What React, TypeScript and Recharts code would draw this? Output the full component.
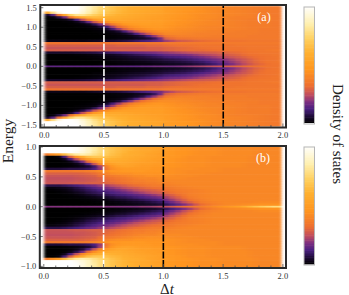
import React from "react";
import { ScatterChart, Scatter, XAxis, YAxis } from "recharts";

// Column edges of the time grid (Delta t)
const timeEdges = [0.005,0.05,0.1,0.15,0.2,0.25,0.3,0.35,0.4,0.45,0.5,0.55,0.6,0.65,0.7,0.75,0.8,0.85,0.9,0.95,1.0,1.05,1.1,1.15,1.2,1.25,1.3,1.35,1.4,1.45,1.5,1.55,1.6,1.65,1.7,1.75,1.8,1.85,1.9,1.95,1.985];

const energyA = [0,.06,.12,.18,.24,.30,.36,.42,.48,.54,.60,.66,.72,.78,.84,.90,.96,1.02,1.08,1.14,1.20,1.26,1.32,1.38,1.44,1.50];
const densityA = [
[1.3,1.3,1.3,1.3,1.3,1.3,1.3,1.3,1.3,1.3,1.3,1.3,1.3,1.3,1.3,1.3,1.4,1.4,1.5,1.5, 1.5,1.5,1.6,1.7,1.8,1.9,2.0,2.1,2.2,2.3,2.5,2.6,2.7,2.8,2.9,2.9,3.0,3.0,3.0,3.0],
[0,0,0,0,0,0,0,0,0,.05,.05,.05,.08,.1,.1,.12,.15,.15,.2,.2, .25,.28,.32,.38,.45,.55,.65,.78,.95,1.15,1.35,1.6,1.85,2.1,2.35,2.6,2.75,2.9,3,3.05],
[0,0,0,0,0,0,0,0,0,0,.05,.07,.1,.12,.15,.18,.2,.25,.3,.35, .4,.45,.5,.57,.65,.75,.85,1,1.2,1.4,1.55,1.8,2,2.25,2.5,2.7,2.85,3,3.05,3.1],
[0,0,0,0,0,0,0,0,.05,.05,.1,.12,.15,.2,.25,.3,.35,.4,.45,.5, .6,.65,.72,.8,.9,1,1.15,1.3,1.45,1.6,1.75,1.95,2.15,2.35,2.55,2.75,2.9,3,3.05,3.1],
[0,0,0,0,0,0,.03,.05,.07,.1,.15,.2,.25,.3,.4,.45,.5,.6,.7,.8, .95,1,1.05,1.15,1.25,1.4,1.55,1.7,1.85,2,2.15,2.3,2.45,2.6,2.75,2.85,2.95,3,3.05,3.1],
[0,0,0,0,.02,.04,.06,.08,.12,.18,.25,.3,.4,.5,.6,.7,.8,.9,1.0,1.15, 1.3,1.4,1.45,1.55,1.65,1.8,1.95,2.05,2.15,2.3,2.4,2.55,2.65,2.8,2.9,2.95,3,3.05,3.1,3.1],
[.4,.4,.4,.4,.4,.45,.5,.55,.6,.7,.8,.9,1.0,1.1,1.2,1.3,1.4,1.5,1.6,1.7, 1.8,1.9,2,2.1,2.2,2.3,2.4,2.45,2.5,2.6,2.65,2.75,2.8,2.9,3,3.05,3.1,3.1,3.1,3.1],
[2.5,2.5,2.5,2.5,2.5,2.5,2.5,2.5,2.5,2.5,2.5,2.5,2.5,2.5,2.5,2.5,2.5,2.5,2.5,2.5, 2.6,2.65,2.7,2.75,2.8,2.8,2.8,2.85,2.9,2.95,3,3,3,3.05,3.1,3.1,3.1,3.15,3.2,3.2],
[2.3,2.3,2.3,2.3,2.3,2.3,2.3,2.3,2.3,2.3,2.4,2.4,2.4,2.4,2.4,2.4,2.4,2.5,2.5,2.5, 2.6,2.65,2.7,2.75,2.8,2.85,2.9,2.95,3,3,3,3,3,3.05,3.1,3.1,3.1,3.1,3.1,3.1],
[2.5,2.5,2.5,2.5,2.5,2.5,2.5,2.5,2.5,2.5,2.5,2.5,2.6,2.6,2.6,2.6,2.6,2.7,2.7,2.7, 2.8,2.85,2.9,2.9,2.9,2.95,3,3,3,3,3,3.05,3.1,3.1,3.1,3.1,3.1,3.1,3.1,3.1],
[3,3,3,3,3,3,3,3,3,3,3,3,3.1,3.1,3.1,3.1,3.1,3.1,3.1,3.1, 3.2,3.2,3.2,3.2,3.2,3.2,3.2,3.2,3.2,3.2,3.2,3.2,3.2,3.2,3.2,3.2,3.2,3.2,3.2,3.2],
[.2,.2,.2,.2,.2,.2,.2,.25,.3,.35,.4,.45,.5,.6,.7,.85,1.0,1.1,1.3,1.5, 1.9,2.1,2.4,2.5,2.6,2.7,2.8,2.85,2.9,2.95,3,3,3,3.05,3.1,3.1,3.1,3.1,3.1,3.1],
[0,0,0,0,0,0,0,0,0,.02,.05,.07,.1,.12,.15,.25,.35,.5,.8,1.5, 2.6,2.8,3,3.05,3.1,3.15,3.2,3.2,3.2,3.2,3.2,3.2,3.2,3.2,3.2,3.2,3.2,3.2,3.2,3.2],
[0,0,0,0,0,0,0,0,0,0,.03,.05,.08,.12,.2,.35,.6,1.1,1.8,2.5, 3.1,3.25,3.4,3.4,3.4,3.4,3.4,3.35,3.3,3.3,3.3,3.3,3.3,3.3,3.2,3.2,3.2,3.2,3.2,3.2],
[0,0,0,0,0,0,0,0,0,.03,.05,.1,.15,.3,.6,1.1,1.8,2.4,3,3.3, 3.6,3.6,3.6,3.55,3.5,3.45,3.4,3.4,3.4,3.35,3.3,3.3,3.3,3.3,3.3,3.25,3.2,3.2,3.2,3.2],
[0,0,0,0,0,0,0,0,.03,.06,.1,.2,.45,1.0,1.7,2.4,3,3.4,3.6,3.8, 3.8,3.75,3.7,3.65,3.6,3.55,3.5,3.45,3.4,3.4,3.4,3.35,3.3,3.3,3.3,3.3,3.2,3.2,3.2,3.2],
[0,0,0,0,0,0,.02,.04,.08,.15,.35,1.0,1.8,2.6,3.2,3.6,3.8,4,4.1,4.1, 4,3.9,3.8,3.75,3.7,3.65,3.6,3.55,3.5,3.45,3.4,3.4,3.4,3.35,3.3,3.3,3.2,3.2,3.2,3.2],
[0,0,0,0,0,.03,.05,.08,.15,.5,1.0,1.9,2.8,3.3,3.8,4,4.2,4.3,4.3,4.3, 4.1,4,3.9,3.85,3.8,3.7,3.6,3.55,3.5,3.5,3.5,3.45,3.4,3.35,3.3,3.3,3.3,3.3,3.2,3.2],
[0,0,0,0,.03,.05,.1,.25,.7,1.5,2.4,3.2,3.7,4.1,4.3,4.4,4.5,4.5,4.4,4.4, 4.2,4.1,4,3.9,3.8,3.75,3.7,3.65,3.6,3.55,3.5,3.45,3.4,3.35,3.3,3.3,3.3,3.3,3.2,3.2],
[0,0,0,.03,.05,.2,.6,1.4,2.4,3.3,3.9,4.3,4.5,4.6,4.6,4.6,4.6,4.6,4.5,4.5, 4.3,4.15,4,3.95,3.9,3.8,3.7,3.65,3.6,3.55,3.5,3.45,3.4,3.35,3.3,3.3,3.3,3.3,3.2,3.2],
[0,0,.03,.1,.4,1.1,2.2,3.4,4.3,4.8,5,5,5,4.9,4.8,4.7,4.7,4.6,4.5,4.5, 4.3,4.2,4.1,4,3.9,3.85,3.8,3.7,3.6,3.55,3.5,3.45,3.4,3.35,3.3,3.3,3.3,3.3,3.2,3.2],
[0,.1,.6,1.5,3,4.3,5.2,5.6,5.7,5.6,5.4,5.3,5.2,5.1,5,4.9,4.8,4.7,4.6,4.5, 4.4,4.25,4.1,4.05,4,3.9,3.8,3.75,3.7,3.6,3.5,3.45,3.4,3.4,3.4,3.35,3.3,3.25,3.2,3.2],
[.4,1.2,3,5,6.5,7.2,7.2,6.8,6.4,6.1,5.8,5.6,5.4,5.3,5.1,5,4.9,4.8,4.7,4.6, 4.4,4.3,4.2,4.1,4,3.9,3.8,3.75,3.7,3.65,3.6,3.55,3.5,3.45,3.4,3.35,3.3,3.25,3.2,3.2],
[5,7,8.5,9,9,8.8,8.2,7.6,7,6.5,6.1,5.8,5.6,5.4,5.2,5.1,5,4.9,4.8,4.7, 4.5,4.35,4.2,4.1,4,3.95,3.9,3.8,3.7,3.65,3.6,3.55,3.5,3.45,3.4,3.35,3.3,3.25,3.2,3.2],
[9,9,9,9,9,8.9,8.4,7.8,7.2,6.7,6.3,6,5.7,5.5,5.3,5.2,5.1,5,4.9,4.8, 4.5,4.4,4.3,4.2,4.1,4,3.9,3.8,3.7,3.65,3.6,3.55,3.5,3.45,3.4,3.35,3.3,3.25,3.2,3.2],
[9,9,9,9,9,9,8.5,7.9,7.3,6.8,6.4,6,5.7,5.5,5.3,5.2,5.1,5,4.9,4.8, 4.5,4.4,4.3,4.2,4.1,4,3.9,3.8,3.7,3.65,3.6,3.55,3.5,3.45,3.4,3.35,3.3,3.25,3.2,3.2],
];

const energyB = [0,.04,.08,.12,.16,.20,.24,.28,.32,.36,.40,.44,.48,.52,.56,.60,.64,.68,.72,.76,.80,.84,.88,.92,.96,1.0];
const densityB = [
[1.3,1.3,1.3,1.3,1.3,1.3,1.3,1.3,1.3,1.3,1.3,1.3,1.3,1.3,1.3,1.3,1.4,1.4,1.5,1.6, 1.7,1.9,2.1,2.25,2.4,2.5,2.6,2.75,2.9,3.05,3.2,3.4,3.6,4,4.4,4.7,5,5.2,5.4,5.4],
[0,0,0,0,0,0,0,0,0,0,.05,.05,.08,.1,.12,.15,.2,.25,.3,.4, .6,.8,1,1.25,1.5,1.85,2.2,2.4,2.6,2.7,2.8,2.85,2.9,2.95,3,3.05,3.1,3.1,3.1,3.1],
[0,0,0,0,0,0,0,0,.02,.03,.05,.08,.1,.15,.2,.25,.3,.4,.5,.6, .9,1.15,1.4,1.7,2,2.25,2.5,2.6,2.7,2.75,2.8,2.8,2.8,2.8,2.8,2.85,2.9,2.9,2.9,2.9],
[0,0,0,0,0,0,.02,.03,.05,.08,.12,.18,.25,.3,.4,.45,.55,.65,.75,.85, 1.2,1.45,1.7,2,2.3,2.45,2.6,2.7,2.8,2.8,2.8,2.8,2.8,2.8,2.8,2.8,2.8,2.8,2.8,2.8],
[0,0,0,0,.02,.04,.06,.1,.15,.22,.3,.4,.5,.55,.65,.75,.85,.95,1.05,1.2, 1.5,1.75,2,2.25,2.5,2.6,2.7,2.75,2.8,2.8,2.8,2.8,2.8,2.8,2.8,2.8,2.8,2.8,2.8,2.8],
[0,0,0,.02,.04,.08,.15,.25,.35,.45,.55,.65,.75,.8,.9,1,1.1,1.25,1.4,1.55, 1.8,2,2.2,2.4,2.6,2.65,2.7,2.75,2.8,2.8,2.8,2.8,2.8,2.8,2.8,2.8,2.8,2.8,2.8,2.8],
[0,0,.02,.05,.1,.2,.3,.45,.55,.65,.75,.85,.95,1.05,1.2,1.35,1.5,1.65,1.8,1.9, 2.1,2.25,2.4,2.5,2.6,2.65,2.7,2.75,2.8,2.8,2.8,2.8,2.8,2.8,2.8,2.8,2.8,2.8,2.8,2.8],
[.02,.03,.06,.1,.2,.35,.45,.6,.7,.85,.95,1.05,1.2,1.35,1.5,1.65,1.8,1.9,2,2.1, 2.3,2.4,2.5,2.55,2.6,2.65,2.7,2.75,2.8,2.8,2.8,2.8,2.8,2.8,2.8,2.8,2.8,2.8,2.8,2.8],
[.1,.1,.15,.2,.3,.45,.6,.75,.9,1.05,1.2,1.35,1.5,1.65,1.8,1.9,2.05,2.15,2.25,2.3, 2.4,2.5,2.6,2.65,2.7,2.75,2.8,2.8,2.8,2.8,2.8,2.8,2.8,2.8,2.8,2.8,2.8,2.8,2.8,2.8],
[.5,.5,.5,.6,.7,.8,.95,1.1,1.2,1.4,1.5,1.65,1.8,1.95,2.1,2.2,2.3,2.4,2.5,2.5, 2.6,2.65,2.7,2.75,2.8,2.8,2.8,2.8,2.8,2.8,2.8,2.8,2.8,2.8,2.8,2.8,2.8,2.8,2.8,2.8],
[1.8,1.8,1.8,1.8,1.85,1.9,1.9,1.95,2,2,2.05,2.1,2.2,2.3,2.4,2.5,2.5,2.6,2.6,2.7, 2.7,2.75,2.8,2.8,2.8,2.8,2.8,2.8,2.8,2.8,2.8,2.8,2.8,2.8,2.8,2.8,2.8,2.8,2.8,2.8],
[1.75,1.75,1.75,1.75,1.75,1.8,1.8,1.85,1.9,2,2.1,2.2,2.3,2.4,2.5,2.6,2.6,2.7,2.7,2.8, 2.8,2.8,2.8,2.8,2.8,2.8,2.8,2.8,2.8,2.8,2.8,2.8,2.8,2.8,2.8,2.8,2.8,2.8,2.8,2.8],
[1.7,1.7,1.7,1.7,1.7,1.75,1.8,1.85,1.9,2,2.2,2.3,2.4,2.5,2.6,2.7,2.8,2.8,2.8,2.9, 2.9,2.9,2.9,2.85,2.8,2.8,2.8,2.8,2.8,2.8,2.8,2.8,2.8,2.8,2.8,2.8,2.8,2.8,2.8,2.8],
[1.8,1.8,1.8,1.8,1.8,1.85,1.9,1.95,2,2.2,2.4,2.5,2.6,2.7,2.8,2.9,2.9,3,3,3, 3,2.95,2.9,2.9,2.9,2.85,2.8,2.8,2.8,2.8,2.8,2.8,2.8,2.8,2.8,2.8,2.8,2.8,2.8,2.8],
[2,2,2,2,2,2,2.05,2.1,2.2,2.4,2.7,2.9,3,3,3,3.1,3.1,3.1,3.1,3.1, 3.1,3.05,3,2.95,2.9,2.9,2.9,2.85,2.8,2.8,2.8,2.8,2.8,2.8,2.8,2.8,2.8,2.8,2.8,2.8],
[2.4,2.4,2.4,2.4,2.4,2.5,2.5,2.6,2.7,2.9,3,3.2,3.2,3.3,3.3,3.3,3.3,3.2,3.2,3.2, 3.1,3.05,3,2.95,2.9,2.9,2.9,2.9,2.9,2.85,2.8,2.8,2.8,2.8,2.8,2.8,2.8,2.8,2.8,2.8],
[.4,.4,.4,.45,.5,.5,.55,.65,.85,1.4,2.4,3,3.2,3.3,3.3,3.3,3.3,3.3,3.2,3.2, 3.1,3.05,3,3,3,2.95,2.9,2.9,2.9,2.85,2.8,2.8,2.8,2.8,2.8,2.8,2.8,2.8,2.8,2.8],
[0,0,0,.02,.05,.1,.2,.35,.7,1.5,2.6,3.2,3.5,3.6,3.6,3.5,3.4,3.4,3.3,3.3, 3.2,3.15,3.1,3.05,3,3,3,2.95,2.9,2.9,2.9,2.9,2.9,2.85,2.8,2.8,2.8,2.8,2.8,2.8],
[0,0,0,.02,.05,.15,.4,.9,1.8,2.8,3.3,3.6,3.8,3.8,3.7,3.6,3.5,3.5,3.4,3.4, 3.2,3.15,3.1,3.05,3,3,3,2.95,2.9,2.9,2.9,2.9,2.9,2.85,2.8,2.8,2.8,2.8,2.8,2.8],
[0,0,0,.03,.15,.5,1.2,2.2,3,3.6,3.9,4,4,3.9,3.8,3.7,3.6,3.5,3.5,3.4, 3.3,3.2,3.1,3.05,3,3,3,2.95,2.9,2.9,2.9,2.9,2.9,2.9,2.85,2.8,2.8,2.8,2.8,2.8],
[0,0,.02,.2,.8,1.7,2.8,3.5,4,4.2,4.3,4.2,4.1,4,3.9,3.8,3.7,3.6,3.5,3.5, 3.3,3.2,3.1,3.05,3,3,3,2.95,2.9,2.9,2.9,2.9,2.9,2.9,2.85,2.8,2.8,2.8,2.8,2.8],
[0,0,.1,.8,2,3.2,4,4.6,4.8,4.8,4.6,4.4,4.3,4.1,4,3.9,3.8,3.7,3.6,3.5, 3.3,3.25,3.2,3.1,3,3,3,2.95,2.9,2.9,2.9,2.9,2.9,2.9,2.85,2.8,2.8,2.8,2.8,2.8],
[2.5,3,3.5,4.5,5.3,5.8,6,5.8,5.5,5.2,4.9,4.6,4.4,4.2,4.1,4,3.9,3.7,3.6,3.5, 3.4,3.3,3.2,3.15,3.1,3.05,3,3,3,2.95,2.9,2.9,2.9,2.9,2.9,2.85,2.8,2.8,2.8,2.8],
[7,7,7,7,7,6.8,6.5,6.2,5.7,5.4,5,4.7,4.5,4.3,4.1,4,3.9,3.8,3.7,3.6, 3.4,3.3,3.2,3.15,3.1,3.05,3,3,3,2.95,2.9,2.9,2.9,2.9,2.9,2.85,2.8,2.8,2.8,2.8],
[7,7,7,7,7,6.9,6.6,6.2,5.8,5.4,5,4.7,4.5,4.3,4.2,4,3.9,3.8,3.7,3.6, 3.4,3.3,3.2,3.15,3.1,3.05,3,3,3,2.95,2.9,2.9,2.9,2.9,2.9,2.85,2.8,2.8,2.8,2.8],
[7,7,7,7,7,6.9,6.6,6.2,5.8,5.4,5,4.7,4.5,4.3,4.2,4,3.9,3.8,3.7,3.6, 3.4,3.3,3.2,3.15,3.1,3.05,3,3,3,2.95,2.9,2.9,2.9,2.9,2.9,2.85,2.8,2.8,2.8,2.8],
];

const timeTicks = [0,.1,.2,.3,.4,.5,.6,.7,.8,.9,1,1.1,1.2,1.3,1.4,1.5,1.6,1.7,1.8,1.9,2];
const energyTicksA = [-1.5,-1,-.5,0,.5,1,1.5];
const energyTicksB = [-1,-.5,0,.5,1];
const barTicksA = [0,2,4,6,8];
const barTicksB = [0,2,4,6];
const dashTimesA = [{ t: .5, color: "#ffffff" }, { t: 1.5, color: "#000000" }];
const dashTimesB = [{ t: .5, color: "#ffffff" }, { t: 1, color: "#000000" }];

const sunsetStops: [number, number, number, number][] = [
  [0,0,0,0],[.05,26,10,48],[.12,74,32,128],[.18,125,47,128],[.24,192,78,96],[.32,238,112,48],
  [.45,255,149,32],[.6,255,176,48],[.72,255,208,96],[.85,255,240,176],[1,255,255,255],
];
function sunset(f: number) {
  const x = Math.max(0, Math.min(1, f));
  for (let i = 1; i < sunsetStops.length; i++) {
    const a = sunsetStops[i - 1], b = sunsetStops[i];
    if (x <= b[0]) {
      const k = (x - a[0]) / (b[0] - a[0]);
      return `rgb(${[1, 2, 3].map((j) => Math.round(a[j] + (b[j] - a[j]) * k)).join(",")})`;
    }
  }
  return "#fff";
}

type CellRow = { t: number; e: number; w: number; h: number; v: number };
function buildCells(energy: number[], density: number[][], dE: number) {
  const cells: CellRow[] = [];
  energy.forEach((e, r) => {
    density[r].forEach((v, c) => {
      const t = (timeEdges[c] + timeEdges[c + 1]) / 2;
      const w = timeEdges[c + 1] - timeEdges[c];
      cells.push({ t, e, w, h: dE, v });
      if (e !== 0) cells.push({ t, e: -e, w, h: dE, v });
    });
  });
  return cells;
}

const INK = "#2b2b2b";
const FONT = "Liberation Serif";

const fmt = (v: number) => (v < 0 ? "\u2212" : "") + Math.abs(v).toFixed(1);
const isMajor = (v: number) => Math.abs(v * 2 - Math.round(v * 2)) < 1e-6;

const BottomTick = (p: any) => {
  const v = p.payload.value;
  const maj = isMajor(v);
  return (
    <g>
      <line x1={p.x} x2={p.x} y1={p.y} y2={p.y - (maj ? 4 : 2.5)} stroke="#555" strokeWidth={0.8} />
      {maj && <text x={p.x} y={p.y + 10.5} textAnchor="middle" fontSize={8.5} fontFamily={FONT} fill="#333">{v.toFixed(1)}</text>}
    </g>
  );
};
const TopTick = (p: any) => {
  const maj = isMajor(p.payload.value);
  return <line x1={p.x} x2={p.x} y1={p.y} y2={p.y + (maj ? 4 : 2.5)} stroke="#555" strokeWidth={0.8} />;
};
const LeftTick = (p: any) => (
  <g>
    <line x1={p.x} x2={p.x + 3} y1={p.y} y2={p.y} stroke="#555" strokeWidth={0.8} />
    <text x={p.x - 3.5} y={p.y + 3} textAnchor="end" fontSize={8.5} fontFamily={FONT} fill="#333">{fmt(p.payload.value)}</text>
  </g>
);
const RightTick = (p: any) => <line x1={p.x} x2={p.x - 3} y1={p.y} y2={p.y} stroke="#555" strokeWidth={0.8} />;

function Panel(props: {
  top: number; height: number; margin: any; xDomain: [number, number]; yDomain: [number, number];
  cells: CellRow[]; yTicks: number[]; dashes: { t: number; color: string }[]; vmax: number; edge: number;
}) {
  const { top, height, margin, xDomain, yDomain, cells, yTicks, dashes, vmax, edge } = props;
  const pxX = (349 - margin.left - margin.right - 2) / (xDomain[1] - xDomain[0]);
  const pxY = (height - margin.top - margin.bottom - 2) / (yDomain[1] - yDomain[0]);
  const Cell = (p: any) => {
    const d = p.payload as CellRow;
    const w = d.w * pxX, h = d.h * pxY;
    return <rect x={p.cx - w / 2 - 0.3} y={p.cy - h / 2 - 0.3} width={w + 0.6} height={h + 0.6} fill={sunset(d.v / vmax)} />;
  };
  const common = { tickSize: 0, tickMargin: 0, tickLine: false, axisLine: false, interval: 0 as const };
  return (
    <div style={{ position: "absolute", left: 0, top }}>
      <ScatterChart width={349} height={height} margin={margin}>
        <XAxis dataKey="t" type="number" domain={xDomain} ticks={timeTicks} height={1} {...common} tick={BottomTick} />
        <XAxis xAxisId="top" orientation="top" type="number" domain={xDomain} ticks={timeTicks} height={1} {...common} tick={TopTick} />
        <YAxis dataKey="e" type="number" domain={yDomain} ticks={yTicks} width={1} {...common} tick={LeftTick} />
        <YAxis yAxisId="right" orientation="right" type="number" domain={yDomain} ticks={yTicks} width={1} {...common} tick={RightTick} />
        <Scatter className="heat" data={cells} shape={Cell} isAnimationActive={false} />
        {dashes.map((d) => (
          <Scatter
            key={d.t}
            data={[{ t: d.t, e: -edge }, { t: d.t, e: edge }]}
            line={{ stroke: d.color, strokeWidth: 1.6, strokeDasharray: "7 1.5" }}
            lineType="joint"
            shape={() => <g />}
            isAnimationActive={false}
          />
        ))}
      </ScatterChart>
    </div>
  );
}

function ColorBar(props: { top: number; height: number; margin: any; domain: [number, number]; ticks: number[]; vmax: number; levels: number[] }) {
  const { top, height, margin, domain, ticks, vmax, levels } = props;
  const px = (height - margin.top - margin.bottom - 2) / (domain[1] - domain[0]);
  const step = levels[1] - levels[0];
  const data = levels.map((v) => ({ x: 0.5, v }));
  const Band = (p: any) => (
    <rect x={p.cx - 5.25} y={p.cy - (step * px) / 2 - 0.3} width={10.5} height={step * px + 0.6} fill={sunset(p.payload.v / vmax)} />
  );
  const BarTick = (p: any) => (
    <g>
      <line x1={p.x} x2={p.x + 3} y1={p.y} y2={p.y} stroke="#999" strokeWidth={0.8} />
      <text x={p.x + 5} y={p.y + 3} fontSize={8.5} fontFamily={FONT} fill="#333">{p.payload.value}</text>
    </g>
  );
  return (
    <div style={{ position: "absolute", left: 295, top }}>
      <ScatterChart width={54} height={height} margin={margin}>
        <XAxis dataKey="x" type="number" domain={[0, 1]} ticks={[]} height={1} tickLine={false} axisLine={false} />
        <YAxis dataKey="v" type="number" domain={domain} ticks={[]} width={1} tickLine={false} axisLine={false} />
        <YAxis yAxisId="right" orientation="right" type="number" domain={domain} ticks={ticks} interval={0} width={1} tickSize={0} tickMargin={0} tickLine={false} axisLine={false} tick={BarTick} />
        <Scatter data={data} shape={Band} isAnimationActive={false} />
      </ScatterChart>
    </div>
  );
}

const cellsA = buildCells(energyA, densityA, 0.06);
const cellsB = buildCells(energyB, densityB, 0.04);
const levelsA = Array.from({ length: 90 }, (_, i) => (i + 0.5) * 0.1);
const levelsB = Array.from({ length: 70 }, (_, i) => (i + 0.5) * 0.1);

export default function App() {
  return (
    <div style={{ position: "absolute", left: 0, top: 0, width: 349, height: 295, background: "#fff", overflow: "hidden" }}>
      <svg width={0} height={0} style={{ position: "absolute" }}>
        <filter id="soft" x="-5%" y="-5%" width="110%" height="110%" colorInterpolationFilters="sRGB">
          <feGaussianBlur stdDeviation="1.4 0.7" />
        </filter>
      </svg>
      <style>{`.heat{filter:url(#soft)}`}</style>
      <Panel top={0} height={140} margin={{ left: 39.3, right: 62, top: 4, bottom: 11.5 }} xDomain={[-0.0335, 2.026]} yDomain={[-1.564, 1.569]}
        cells={cellsA} yTicks={energyTicksA} dashes={dashTimesA} vmax={9} edge={1.55} />
      <Panel top={140} height={155} margin={{ left: 38.8, right: 62, top: 5, bottom: 26 }} xDomain={[-0.0335, 2.026]} yDomain={[-1.027, 1.017]}
        cells={cellsB} yTicks={energyTicksB} dashes={dashTimesB} vmax={7} edge={1.01} />
      <ColorBar top={0} height={140} margin={{ left: 8, right: 33.5, top: 6, bottom: 15 }} domain={[-0.1, 9]} ticks={barTicksA} vmax={9} levels={levelsA} />
      <ColorBar top={140} height={155} margin={{ left: 8, right: 33.5, top: 6, bottom: 29 }} domain={[-0.05, 7]} ticks={barTicksB} vmax={7} levels={levelsB} />
      <svg width={349} height={295} style={{ position: "absolute", left: 0, top: 0, pointerEvents: "none" }} fontFamily={FONT}>
        <rect x={40.3} y={5} width={245.7} height={122.5} fill="none" stroke={INK} strokeWidth={2} />
        <rect x={39.8} y={146} width={246.2} height={122} fill="none" stroke={INK} strokeWidth={2} />
        <rect x={304} y={7} width={10.5} height={117} fill="none" stroke="#b5b5b5" strokeWidth={1} />
        <rect x={304} y={147} width={10.5} height={118} fill="none" stroke="#b5b5b5" strokeWidth={1} />
        <text x={264} y={21} fontSize={12} fill="#fff" textAnchor="middle">(a)</text>
        <text x={263} y={162} fontSize={12} fill="#fff" textAnchor="middle">(b)</text>
        <text transform="translate(13,141) rotate(-90)" fontSize={15.5} textAnchor="middle" fill="#222">Energy</text>
        <text transform="translate(333,134) rotate(90)" fontSize={15} textAnchor="middle" fill="#222">Density of states</text>
        <text x={167} y={293.5} fontSize={15} textAnchor="middle" fill="#222">{"\u0394"}<tspan fontStyle="italic">t</tspan></text>
      </svg>
    </div>
  );
}
